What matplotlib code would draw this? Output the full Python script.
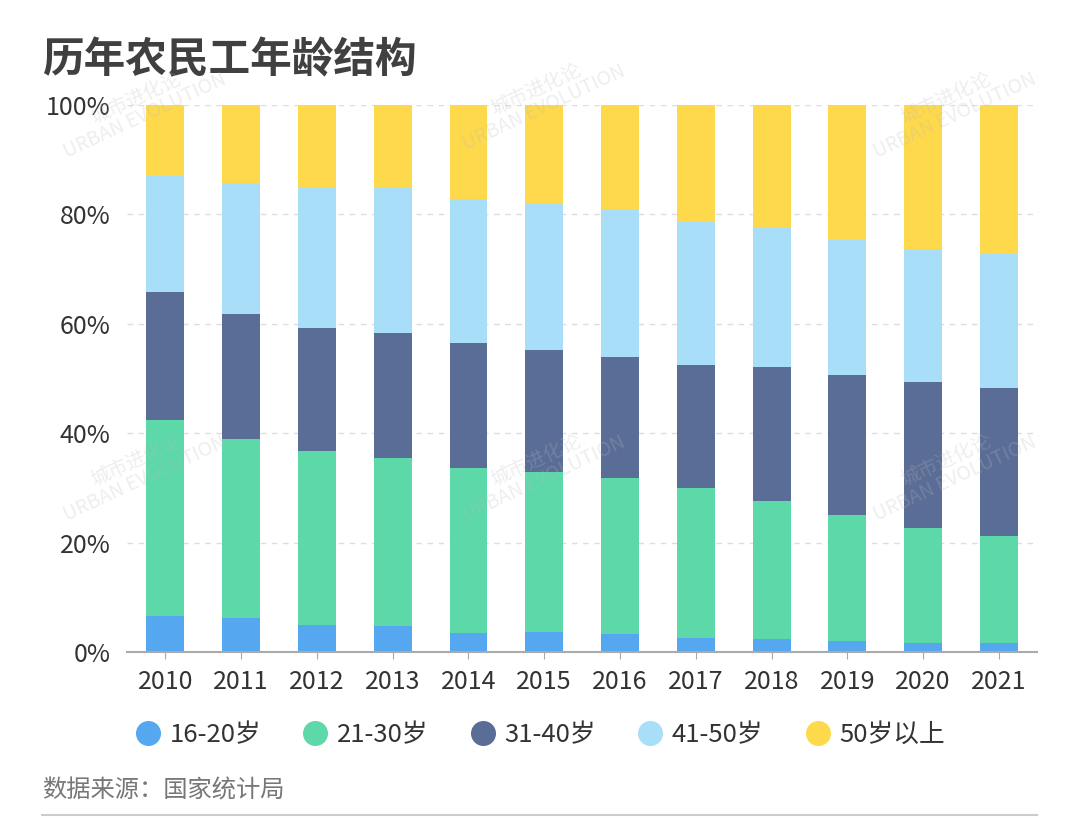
import numpy as np
import matplotlib.pyplot as plt
from matplotlib.lines import Line2D

plt.rcParams['font.family'] = ['Noto Sans CJK SC', 'DejaVu Sans']

# ==========================
# DATA (%)
# ==========================
years = ["2010", "2011", "2012", "2013", "2014", "2015",
         "2016", "2017", "2018", "2019", "2020", "2021"]
groups = ["16-20岁", "21-30岁", "31-40岁", "41-50岁", "50岁以上"]

age_16_20 = [6.5, 6.3, 4.9, 4.7, 3.5, 3.7, 3.3, 2.6, 2.4, 2.0, 1.6, 1.6]
age_21_30 = [35.9, 32.7, 31.9, 30.8, 30.2, 29.2, 28.6, 27.3, 25.2, 23.1, 21.1, 19.6]
age_31_40 = [23.5, 22.7, 22.5, 22.9, 22.8, 22.3, 22.0, 22.5, 24.5, 25.5, 26.7, 27.0]
age_41_50 = [21.2, 24.0, 25.6, 26.4, 26.4, 26.9, 27.0, 26.3, 25.5, 24.8, 24.2, 24.5]
age_50_up = [12.9, 14.3, 15.1, 15.2, 17.1, 17.9, 19.1, 21.3, 22.4, 24.6, 26.4, 27.3]

colors = ["#55A7F0", "#5DD8A9", "#5A6D96", "#A9DEF8", "#FDD94B"]

# ==========================
# PLOT
# ==========================
fig = plt.figure(figsize=(10.8, 8.24), dpi=100)
ax = fig.add_axes([0.118, 0.2087, 0.842, 0.6639])

series = [age_16_20, age_21_30, age_31_40, age_41_50, age_50_up]
x = np.arange(len(years))
bottom = np.zeros(len(years))
for vals, col in zip(series, colors):
    vals = np.array(vals)
    ax.bar(x, vals, 0.5, bottom=bottom, color=col, zorder=3)
    bottom += vals

ax.set_xlim(-0.5, len(years) - 0.5)
ax.set_ylim(0, 100)
ax.set_yticks([0, 20, 40, 60, 80, 100])
ax.set_yticklabels([f"{v}%" for v in [0, 20, 40, 60, 80, 100]])
ax.set_xticks(x)
ax.set_xticklabels(years)
ax.tick_params(axis='y', length=0, labelsize=18, labelcolor="#333333", pad=12)
ax.tick_params(axis='x', length=5, color="#aaaaaa", labelsize=18, labelcolor="#333333", pad=7)
ax.grid(axis='y', linestyle=(0, (4, 4)), color="#dddddd", linewidth=1, zorder=0)
for s in ["top", "right", "left"]:
    ax.spines[s].set_visible(False)
ax.spines["bottom"].set_color("#aaaaaa")
ax.spines["bottom"].set_linewidth(1.5)
ax.spines["bottom"].set_zorder(4)

fig.text(0.039, 0.927, "历年农民工年龄结构", fontsize=30, fontweight="bold",
         color="#404040", va="center")

handles = [Line2D([], [], marker='o', linestyle='', markersize=17,
                  markerfacecolor=c, markeredgecolor=c) for c in colors]
fig.legend(handles, groups, loc="center", bbox_to_anchor=(0.5, 0.108), ncol=5,
           frameon=False, fontsize=18.5, handlelength=1.0, handletextpad=0.35,
           columnspacing=1.6, labelcolor="#333333")

fig.text(0.039, 0.041, "数据来源：国家统计局", fontsize=17.5, color="#777777", va="center")
fig.add_artist(Line2D([0.039, 0.96], [0.011, 0.011], color="#cccccc", linewidth=1.5))

# watermark
for wx, wy in [(0.13, 0.87), (0.5, 0.88), (0.88, 0.87), (0.13, 0.43), (0.5, 0.43), (0.88, 0.43)]:
    fig.text(wx, wy, "城市进化论\nURBAN EVOLUTION", fontsize=14, color="#bbbbbb", alpha=0.25,
             rotation=25, ha="center", va="center", linespacing=0.9, zorder=10)

fig.savefig("out.png", dpi=100)
